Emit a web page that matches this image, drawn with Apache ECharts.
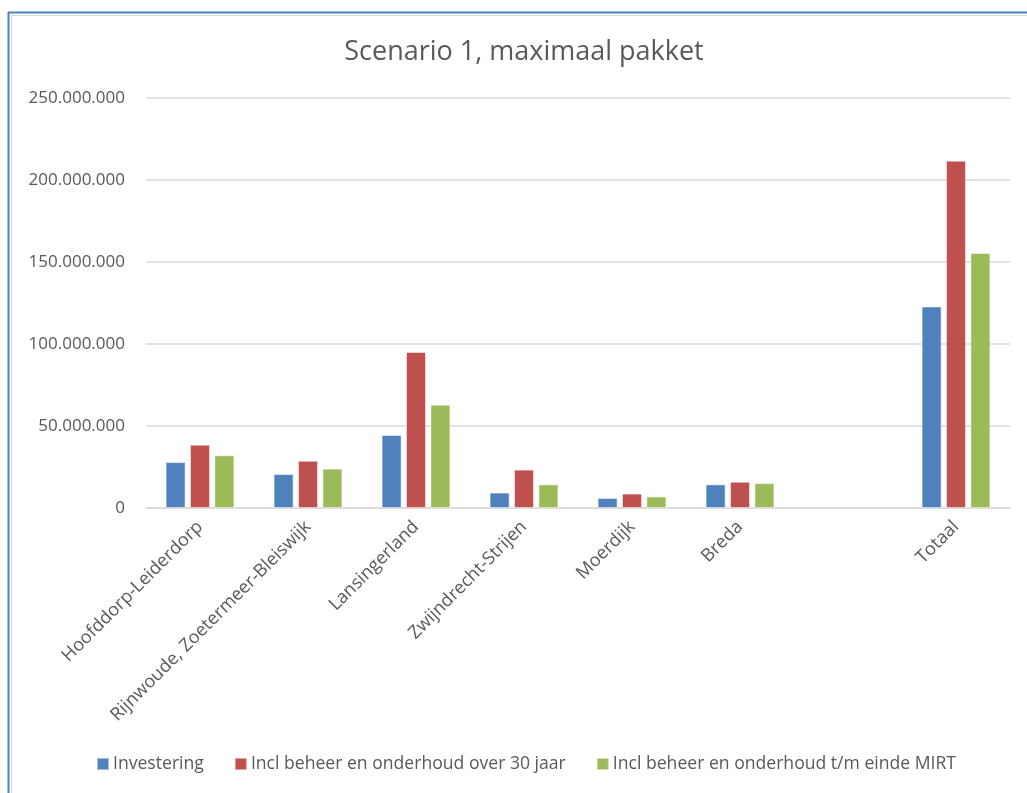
<!DOCTYPE html>
<html>
<head>
<meta charset="utf-8">
<script src="https://cdn.jsdelivr.net/npm/echarts@6/dist/echarts.min.js"></script>
<style>html,body{margin:0;padding:0;background:#fff}#c{width:1027px;height:793px}</style>
</head>
<body>
<div id="c"></div>
<script>
var categories = ['Hoofddorp-Leiderdorp', 'Rijnwoude, Zoetermeer-Bleiswijk', 'Lansingerland', 'Zwijndrecht-Strijen', 'Moerdijk', 'Breda', '', 'Totaal'];
var seriesNames = ['Investering', 'Incl beheer en onderhoud over 30 jaar', 'Incl beheer en onderhoud t/m einde MIRT'];
var investering = [28000000, 20700000, 44500000, 9400000, 6100000, 14400000, null, 122900000];
var beheer30 = [38600000, 28800000, 95100000, 23400000, 8800000, 16000000, null, 211800000];
var beheerMirt = [32100000, 24000000, 63000000, 14400000, 7000000, 15200000, null, 155500000];
var yTicks = [0, 50000000, 100000000, 150000000, 200000000, 250000000];
var colors = ['#4F81BD', '#C0504D', '#9BBB59'];

function fmt(v) {
  return String(v).replace(/\B(?=(\d{3})+(?!\d))/g, '.');
}

var chart = echarts.init(document.getElementById('c'), null, {renderer: 'canvas'});
var font = '"Open Sans", sans-serif';
var dataSets = [investering, beheer30, beheerMirt];
var option = {
  animation: false,
  backgroundColor: '#ffffff',
  color: colors,
  title: {
    text: 'Scenario 1, maximaal pakket',
    left: 519, top: 34, textAlign: 'center',
    textStyle: {fontFamily: font, fontSize: 27, fontWeight: 'normal', color: '#595959'}
  },
  legend: {
    top: 755, left: 96, padding: 0,
    itemWidth: 12, itemHeight: 12, itemGap: 30,
    icon: 'rect',
    textStyle: {fontFamily: font, fontSize: 17.6, color: '#595959', padding: [0, 0, 0, -1]},
    data: seriesNames
  },
  grid: {left: 146, right: 17, top: 98, bottom: 285, containLabel: false},
  xAxis: {
    type: 'category',
    data: categories,
    axisLine: {show: true, lineStyle: {color: '#D9D9D9', width: 1.5}},
    axisTick: {show: false},
    axisLabel: {interval: 0, rotate: 45, margin: 16, fontFamily: font, fontSize: 18, color: '#595959'}
  },
  yAxis: {
    type: 'value',
    min: 0, max: 250000000, interval: 50000000,
    axisLine: {show: false},
    axisTick: {show: false},
    splitLine: {lineStyle: {color: '#D9D9D9', width: 1.5}},
    axisLabel: {margin: 21, fontFamily: font, fontSize: 17, color: '#595959', formatter: function (v) { return fmt(v); }}
  },
  graphic: [
    {type: 'line', shape: {x1: 8.5, y1: 12, x2: 8.5, y2: 793}, style: {stroke: '#4F81BD', lineWidth: 2}},
    {type: 'line', shape: {x1: 8, y1: 12.5, x2: 1027, y2: 12.5}, style: {stroke: '#4F81BD', lineWidth: 2}},
    {type: 'line', shape: {x1: 11.5, y1: 15, x2: 11.5, y2: 793}, style: {stroke: '#D9D9D9', lineWidth: 1}},
    {type: 'line', shape: {x1: 11, y1: 15.5, x2: 1027, y2: 15.5}, style: {stroke: '#D9D9D9', lineWidth: 1}}
  ],
  series: seriesNames.map(function (n, i) {
    return {
      name: n, type: 'bar', data: dataSets[i],
      barWidth: 20, barGap: '22%',
      itemStyle: {color: colors[i], borderColor: 'rgba(255,255,255,0.5)', borderWidth: 1}
    };
  })
};
chart.setOption(option);
</script>
</body>
</html>
